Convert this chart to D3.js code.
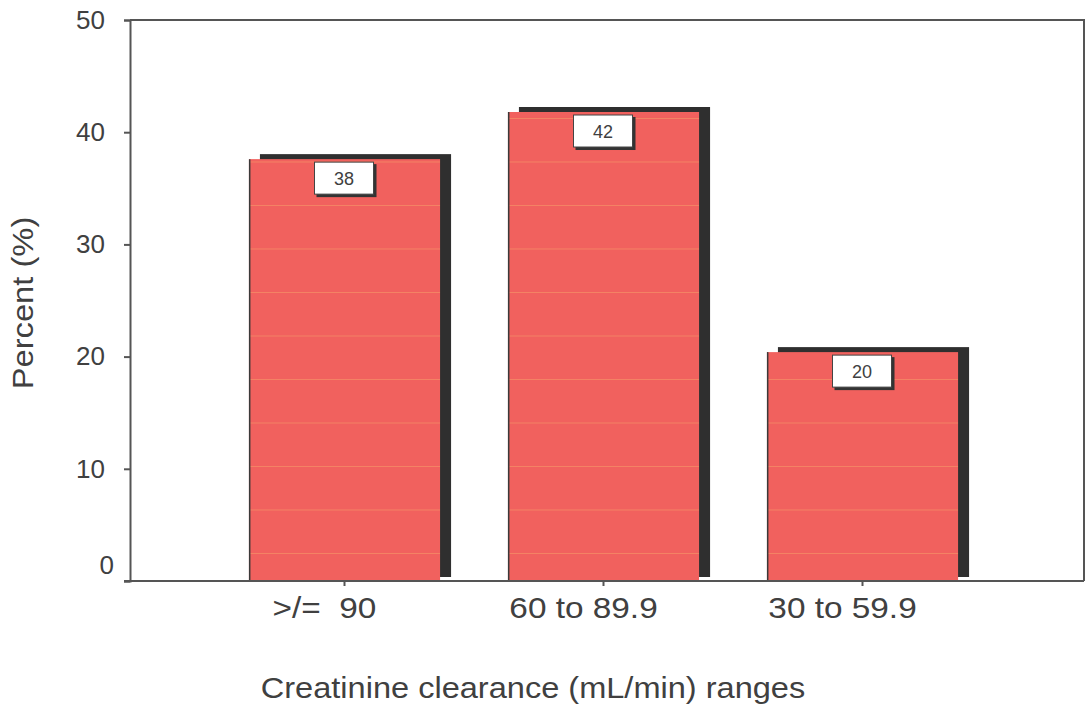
<!DOCTYPE html>
<html>
<head>
<meta charset="utf-8">
<script src="https://cdn.jsdelivr.net/npm/d3@7"></script>
<style>
  html, body { margin: 0; padding: 0; background: #ffffff; }
  svg { display: block; }
  text { font-family: "Liberation Sans", Arial, sans-serif; fill: #404040; }
</style>
</head>
<body>
<svg id="chart" width="1086" height="705"></svg>
<script>
// ---- data ----
const categories = [">/=  90", "60 to 89.9", "30 to 59.9"];
const values = [37.6, 41.8, 20.4];
const valueLabels = ["38", "42", "20"];
const yTicks = [0, 10, 20, 30, 40, 50];
const xTitle = "Creatinine clearance (mL/min) ranges";
const yTitle = "Percent (%)";

// ---- layout ----
const svg = d3.select("#chart");
const mLeft = 130, mRight = 1084, mTop = 20, mBottom = 581;

const y = d3.scaleLinear().domain([0, 50]).range([mBottom, mTop]);
const x = d3.scaleBand().domain(categories).range([215, 992])
  .paddingInner(0.262).paddingOuter(0.131);

const defs = svg.append("defs");
const pat = defs.append("pattern").attr("id", "stripes")
  .attr("patternUnits", "userSpaceOnUse")
  .attr("width", 20).attr("height", 43.5)
  .attr("y", mBottom - 28);
pat.append("rect").attr("width", 20).attr("height", 43.5).attr("fill", "#f1615e");
pat.append("line").attr("x1", 0).attr("x2", 20).attr("y1", 0.5).attr("y2", 0.5)
  .attr("stroke", "#f7a46a").attr("stroke-width", 1).attr("opacity", 0.5);

// frame: top and right border
svg.append("path")
  .attr("d", `M${mLeft},${mTop}H${mRight}V${mBottom}`)
  .attr("fill", "none").attr("stroke", "#555").attr("stroke-width", 2);

// bars: shadow
const g = svg.append("g");
g.selectAll("rect.shadow").data(values).join("rect")
  .attr("class", "shadow")
  .attr("x", (d, i) => x(categories[i]) + 11)
  .attr("y", d => y(d) - 5)
  .attr("width", x.bandwidth())
  .attr("height", d => mBottom - 4 - (y(d) - 5))
  .attr("fill", "#2f2f2f");

g.selectAll("rect.bar").data(values).join("rect")
  .attr("class", "bar")
  .attr("x", (d, i) => x(categories[i]))
  .attr("y", d => y(d))
  .attr("width", x.bandwidth())
  .attr("height", d => mBottom - y(d))
  .attr("fill", "url(#stripes)");

// left edge dark line
g.selectAll("line.edge").data(values).join("line")
  .attr("class", "edge")
  .attr("x1", (d, i) => x(categories[i]) + 0.75)
  .attr("x2", (d, i) => x(categories[i]) + 0.75)
  .attr("y1", d => y(d)).attr("y2", mBottom)
  .attr("stroke", "#3a3a3a").attr("stroke-width", 1.5);

// value label boxes
const lab = g.selectAll("g.lab").data(values).join("g").attr("class", "lab")
  .attr("transform", (d, i) => `translate(${x(categories[i]) + x.bandwidth() / 2},${y(d)})`);
lab.append("rect").attr("x", -28).attr("y", 5).attr("width", 60).attr("height", 33)
  .attr("fill", "#333");
lab.append("rect").attr("x", -30).attr("y", 3).attr("width", 59).attr("height", 32)
  .attr("fill", "#ffffff").attr("stroke", "#444").attr("stroke-width", 1);
lab.append("text").attr("x", -0.5).attr("y", 20)
  .attr("text-anchor", "middle").attr("dominant-baseline", "central")
  .attr("font-size", 18)
  .text((d, i) => valueLabels[i]);

// y axis
const yAxis = svg.append("g").attr("transform", `translate(${mLeft},0)`)
  .call(d3.axisLeft(y).tickValues(yTicks).tickSize(6).tickPadding(19));
yAxis.select(".domain").attr("stroke", "#555").attr("stroke-width", 2);
yAxis.selectAll(".tick line").attr("stroke", "#555").attr("stroke-width", 2);
yAxis.selectAll(".tick text").attr("font-size", 26).attr("fill", "#404040")
  .attr("font-family", "Liberation Sans, Arial, sans-serif")
  .filter(d => d === 0).attr("dy", "-0.3em").attr("dx", "9");

// x axis
const xAxis = svg.append("g").attr("transform", `translate(0,${mBottom})`)
  .call(d3.axisBottom(x).tickSize(5).tickPadding(11));
xAxis.select(".domain").attr("d", `M${mLeft - 6},0H${mRight}`)
  .attr("stroke", "#555").attr("stroke-width", 2);
xAxis.selectAll(".tick line").attr("stroke", "#555").attr("stroke-width", 2);
xAxis.selectAll(".tick text").attr("font-size", 29).attr("fill", "#404040")
  .attr("font-family", "Liberation Sans, Arial, sans-serif")
  .attr("transform", "translate(-20,0) scale(1.15,1)")
  .style("white-space", "pre").attr("xml:space", "preserve");

// titles
svg.append("text").attr("transform", "translate(533,698) scale(1.085,1)")
  .attr("text-anchor", "middle").attr("font-size", 30).text(xTitle);
svg.append("text").attr("transform", "translate(33,303) rotate(-90) scale(1.09,1)")
  .attr("text-anchor", "middle").attr("font-size", 30).text(yTitle);
</script>
</body>
</html>
